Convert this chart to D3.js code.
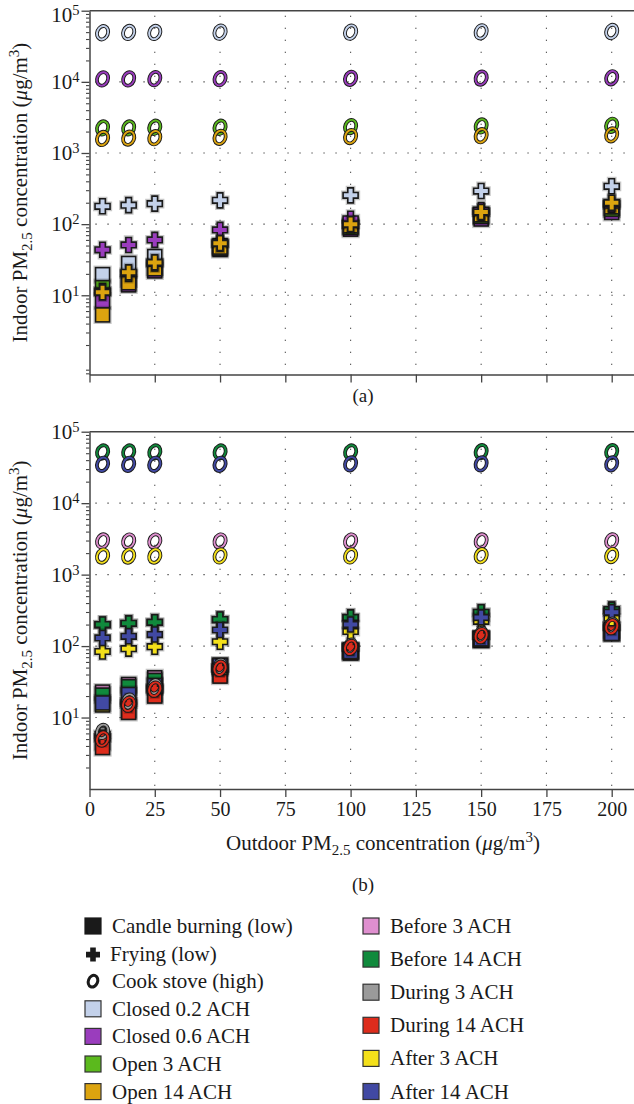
<!DOCTYPE html>
<html>
<head>
<meta charset="utf-8">
<script src="https://cdn.jsdelivr.net/npm/d3@7"></script>
<style>
  body { margin: 0; background: #fff; }
  svg { display: block; font-family: 'Liberation Serif', 'DejaVu Serif', serif; }
</style>
</head>
<body>
<svg id="chart" width="634" height="1104"></svg>
<script>
// MARK: Data.

const outdoor = [5, 15, 25, 50, 100, 150, 200]
const xTicks  = [0, 25, 50, 75, 100, 125, 150, 175, 200]

// (a) closed / open windows
const scenariosA = ['Closed 0.2 ACH', 'Closed 0.6 ACH', 'Open 3 ACH', 'Open 14 ACH']
const colorsA    = ['#c3d1ea', '#9a3dbd', '#5bb91d', '#dca40f']
const candleA = [
  [19.5, 28, 35, 50, 92, 130, 165],
  [8.3, 14, 22, 44, 85, 118, 146],
  [12.8, 17, 25, 46, 90, 128, 162],
  [5.3, 15, 23.6, 47.6, 95, 135, 175],
]
const fryingA = [
  [178, 185, 194, 216, 254, 292, 340],
  [43.6, 51, 60, 83, 119, 158, 185],
  [11.5, 20, 28, 53, 98, 145, 195],
  [11, 21, 29, 54, 100, 148, 200],
]
const stoveA = [
  [49000, 49500, 49500, 50000, 50000, 50500, 51000],
  [11000, 11000, 11100, 11100, 11200, 11300, 11400],
  [2250, 2250, 2300, 2300, 2350, 2400, 2450],
  [1600, 1620, 1640, 1660, 1700, 1750, 1800],
]

// (b) before / during / after
const scenariosB = ['Before 3 ACH', 'Before 14 ACH', 'During 3 ACH', 'During 14 ACH', 'After 3 ACH', 'After 14 ACH']
const colorsB    = ['#df8fcf', '#108a3c', '#9a9a9a', '#dd2c1c', '#f4e01a', '#4149a3']
const candleB = [
  [22.7, 29, 36, 54, 88, 128, 158],
  [20.6, 27, 33, 52, 86, 127, 156],
  [4.5, 12.5, 21, 40, 82, 122, 152],
  [3.8, 11.8, 20, 38, 80, 120, 150],
  [15, 20, 27, 50, 84, 125, 170],
  [16, 21, 28, 53, 84, 126, 150],
]
const fryingB = [
  [198, 207, 214, 234, 250, 295, 322],
  [200, 208, 215, 235, 252, 297, 324],
  [5.8, 16.5, 26, 50, 98, 143, 192],
  [5.2, 15.4, 25, 49, 96, 140, 187],
  [84, 92, 98, 115, 160, 222, 245],
  [130, 137, 145, 168, 200, 252, 297],
]
const stoveB = [
  [2960, 2950, 2950, 2950, 2950, 2960, 2970],
  [52000, 52000, 52000, 52000, 52000, 52500, 52500],
  [6.4, 17, 27, 52, 100, 146, 196],
  [5.0, 15.4, 25, 49, 96, 140, 187],
  [1820, 1820, 1820, 1830, 1830, 1840, 1850],
  [35000, 35000, 35000, 35000, 35500, 35500, 35500],
]

const activities = ['Candle burning (low)', 'Frying (low)', 'Cook stove (high)']

// MARK: Layout constants.

const WIDTH   = 634
const X_LEFT  = 89.5
const PX_UNIT = 2.611
const FONT    = 21
const INK     = '#1a1a1a'
const AXIS    = '#444'

const svg = d3.select('#chart')

const x = d3.scaleLinear().domain([0, 210]).range([X_LEFT, X_LEFT + 210 * PX_UNIT])

const panels = [
  { top: 10.7, bottom: 374.5, yMin: 0.77, labels: false, tag: '(a)', tagY: 402,
    candle: candleA, frying: fryingA, stove: stoveA, colors: colorsA },
  { top: 431.7, bottom: 789, yMin: 1, labels: true, tag: '(b)', tagY: 891,
    candle: candleB, frying: fryingB, stove: stoveB, colors: colorsB },
]

// Writes "Indoor/Outdoor PM2.5 concentration (µg/m3)" with sub/superscripts.
function pmLabel(text, prefix) {
  text.append('tspan').text(prefix + ' PM')
  text.append('tspan').attr('dy', 5).attr('font-size', 15).text('2.5')
  text.append('tspan').attr('dy', -5).text(' concentration (')
  text.append('tspan').attr('font-style', 'italic').text('\u03bc')
  text.append('tspan').text('g/m')
  text.append('tspan').attr('dy', -8).attr('font-size', 15).text('3')
  text.append('tspan').attr('dy', 8).text(')')
}

// Marker glyphs: square for candle, cross for frying, slanted "O" for the stove.
const PLUS = (a, b) => `M${-b},${-a}H${b}V${-b}H${a}V${b}H${b}V${a}H${-b}V${b}H${-a}V${-b}H${-b}Z`

function drawMarker(g, kind, cx, cy, color) {
  const m = g.append('g').attr('transform', `translate(${cx},${cy})`)
  if (kind === 0) {
    m.append('rect').attr('x', -7).attr('y', -7).attr('width', 14).attr('height', 14)
      .attr('fill', color).attr('stroke', 'rgba(0,0,0,0.22)').attr('stroke-width', 4.2)
    m.append('rect').attr('x', -7).attr('y', -7).attr('width', 14).attr('height', 14)
      .attr('fill', color).attr('stroke', INK).attr('stroke-width', 1.6)
  } else if (kind === 1) {
    m.append('path').attr('d', PLUS(7.5, 2.8))
      .attr('fill', color).attr('stroke', 'rgba(0,0,0,0.22)').attr('stroke-width', 4.2)
    m.append('path').attr('d', PLUS(7.5, 2.8))
      .attr('fill', color).attr('stroke', INK).attr('stroke-width', 1.6)
  } else {
    m.append('ellipse').attr('rx', 5.4).attr('ry', 6.9).attr('transform', 'rotate(22)')
      .attr('fill', 'none').attr('stroke', INK).attr('stroke-width', 3.8)
    m.append('ellipse').attr('rx', 5.4).attr('ry', 6.9).attr('transform', 'rotate(22)')
      .attr('fill', 'none').attr('stroke', color).attr('stroke-width', 1.9)
  }
}

panels.forEach((p, pi) => {
  const y = d3.scaleLog().domain([p.yMin, 1e5]).range([p.bottom, p.top])
  const g = svg.append('g')

  // Dotted grid
  const grid = g.append('g')
    .attr('stroke', '#222').attr('stroke-width', 1.1).attr('stroke-dasharray', '1.1,10.9')
  grid.selectAll('line.v').data(xTicks.slice(1)).enter().append('line')
    .attr('x1', (d) => x(d)).attr('x2', (d) => x(d))
    .attr('y1', p.top + 5).attr('y2', p.bottom)
  grid.selectAll('line.h').data([1e1, 1e2, 1e3, 1e4]).enter().append('line')
    .attr('x1', X_LEFT + 6).attr('x2', WIDTH)
    .attr('y1', (d) => y(d)).attr('y2', (d) => y(d))

  // Top frame
  g.append('line')
    .attr('x1', X_LEFT).attr('x2', WIDTH)
    .attr('y1', p.top).attr('y2', p.top)
    .attr('stroke', AXIS).attr('stroke-width', 1.5)

  // Left axis: minor and major ticks
  const minor = []
  for (let e = -1; e < 5; e++) {
    for (let k = 2; k <= 9; k++) {
      const v = k * Math.pow(10, e)
      if (v >= p.yMin) minor.push(v)
    }
  }
  const majors = [1e1, 1e2, 1e3, 1e4, 1e5]
  g.append('g').attr('transform', `translate(${X_LEFT},0)`)
    .call(d3.axisLeft(y).tickValues(minor).tickSize(3.5).tickSizeOuter(0).tickFormat(''))
    .call((a) => a.select('.domain').remove())
    .call((a) => a.selectAll('line').attr('stroke', AXIS).attr('stroke-width', 1.1))
  const yAxis = g.append('g').attr('transform', `translate(${X_LEFT},0)`)
    .call(d3.axisLeft(y).tickValues(majors).tickSize(8).tickSizeOuter(0).tickPadding(2))
  yAxis.select('.domain').attr('stroke', AXIS).attr('stroke-width', 1.5)
  yAxis.selectAll('line').attr('stroke', AXIS).attr('stroke-width', 1.3)
  yAxis.selectAll('text')
    .attr('font-size', FONT).attr('font-family', 'Liberation Serif').attr('fill', INK)
    // the topmost label of (a) sits against the page edge; nudge it down a touch
    .attr('dy', (d) => (pi === 0 && d === 1e5 ? '0.5em' : '0.32em'))
    .text(null)
    .each(function (d) {
      const t = d3.select(this)
      t.append('tspan').text('10')
      t.append('tspan').attr('dy', -7).attr('font-size', 14.5).text(Math.round(Math.log10(d)))
    })

  // Bottom axis
  const xAxis = g.append('g').attr('transform', `translate(0,${p.bottom})`)
    .call(d3.axisBottom(x).tickValues(xTicks).tickSize(8).tickSizeOuter(0)
      .tickPadding(5).tickFormat(p.labels ? d3.format('d') : ''))
  xAxis.select('.domain').attr('stroke', AXIS).attr('stroke-width', 1.5)
  xAxis.selectAll('line').attr('stroke', AXIS).attr('stroke-width', 1.3)
  xAxis.selectAll('text')
    .attr('font-size', 20).attr('font-family', 'Liberation Serif').attr('fill', INK)

  // Y axis title
  const yTitle = g.append('text')
    .attr('transform', `translate(27,${(p.top + p.bottom) / 2}) rotate(-90)`)
    .attr('text-anchor', 'middle').attr('font-size', FONT).attr('fill', INK)
  pmLabel(yTitle, 'Indoor')

  // Markers: all squares, then all crosses, then all stove rings
  const marks = g.append('g')
  ;[p.candle, p.frying, p.stove].forEach((series, kind) => {
    series.forEach((values, i) => {
      values.forEach((v, j) => drawMarker(marks, kind, x(outdoor[j]), y(v), p.colors[i]))
    })
  })

  if (p.labels) {
    const xTitle = svg.append('text')
      .attr('x', 383).attr('y', 850)
      .attr('text-anchor', 'middle').attr('font-size', FONT).attr('fill', INK)
    pmLabel(xTitle, 'Outdoor')
  }

  svg.append('text')
    .attr('x', 363).attr('y', p.tagY)
    .attr('text-anchor', 'middle').attr('font-size', 19).attr('fill', INK)
    .text(p.tag)
})

// MARK: Legend

const legendLeft = activities.map((name, i) => ({ name, kind: i, color: INK }))
  .concat(scenariosA.map((name, i) => ({ name, kind: -1, color: colorsA[i] })))
const legendRight = scenariosB.map((name, i) => ({ name, kind: -1, color: colorsB[i] }))

function drawLegend(items, x0, y0, step) {
  items.forEach((item, i) => {
    const cy = y0 + i * step
    const g = svg.append('g').attr('transform', `translate(${x0},${cy})`)
    if (item.kind === -1 || item.kind === 0) {
      g.append('rect').attr('x', 0).attr('y', -8).attr('width', 16).attr('height', 16)
        .attr('fill', item.color).attr('stroke', item.kind === 0 ? INK : '#333').attr('stroke-width', 1.2)
    } else if (item.kind === 1) {
      g.append('path').attr('d', PLUS(7, 2.8)).attr('transform', 'translate(8,1)')
        .attr('fill', INK)
    } else {
      g.append('ellipse').attr('cx', 8).attr('rx', 4.6).attr('ry', 6).attr('transform', 'rotate(22,8,0)')
        .attr('fill', 'none').attr('stroke', INK).attr('stroke-width', 3)
    }
    g.append('text')
      .attr('x', item.kind === 1 ? 25 : 27).attr('y', 7)
      .attr('font-size', FONT).attr('fill', INK)
      .text(item.name)
  })
}

drawLegend(legendLeft, 85, 926, 27.6)
drawLegend(legendRight, 363, 926, 33.1)
</script>
</body>
</html>
